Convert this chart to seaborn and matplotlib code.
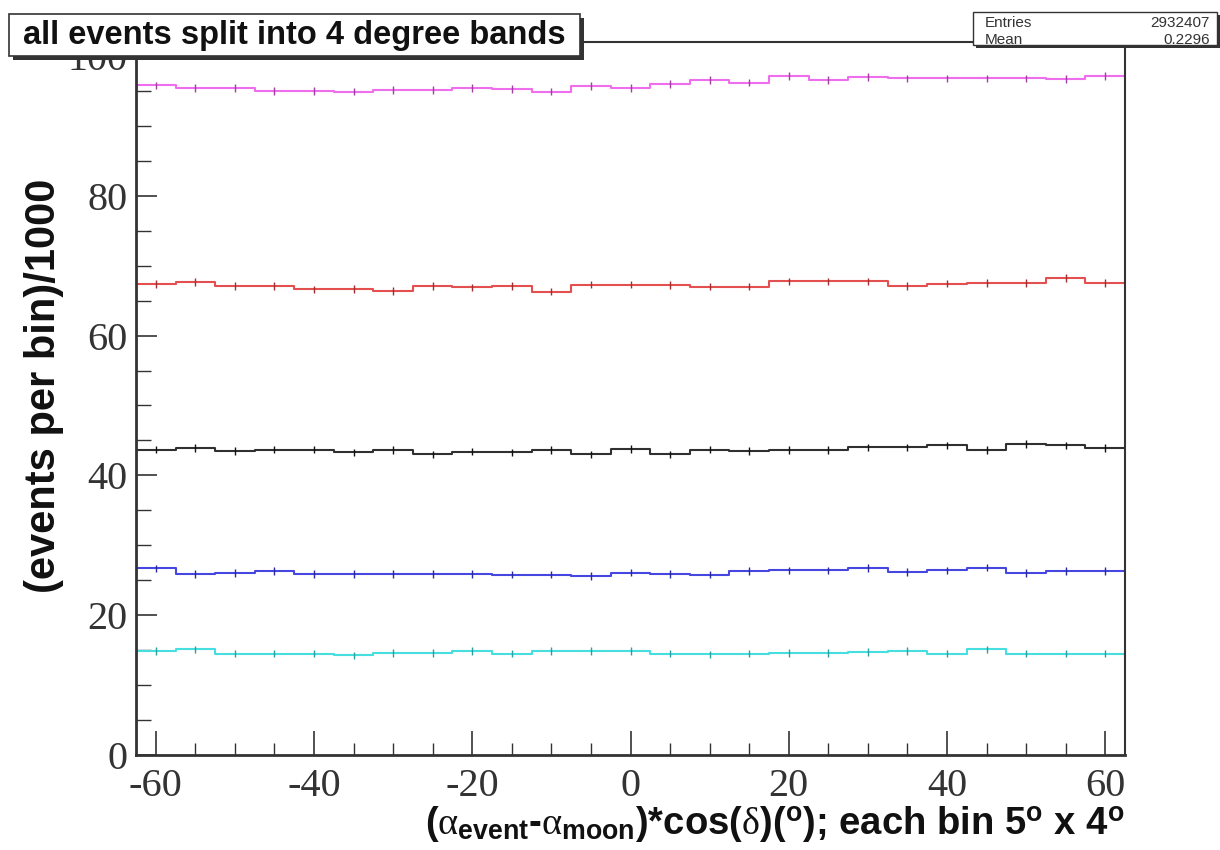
import numpy as np
import pandas as pd
import matplotlib
matplotlib.use("Agg")
import matplotlib.pyplot as plt
from matplotlib.patches import Rectangle
from matplotlib.ticker import MultipleLocator
import seaborn as sns

# ---- data (events per bin / 1000), 25 bins of 5 degrees ----
bin_centers = np.arange(-60, 60.1, 5.0)
band_names = ["band 4", "band 3", "band 2", "band 1", "band 0"]
magenta_vals = [95.8, 95.4, 95.4, 95.0, 95.0, 94.9, 95.1, 95.1, 95.4, 95.3, 94.9, 95.7, 95.4,
                96.0, 96.6, 96.2, 97.1, 96.6, 97.0, 96.8, 96.8, 96.8, 96.8, 96.7, 97.1]
red_vals = [67.35, 67.7, 67.1, 67.1, 66.6, 66.7, 66.4, 67.1, 66.9, 67.1, 66.3, 67.3, 67.3,
            67.2, 67.0, 67.0, 67.75, 67.75, 67.75, 67.1, 67.45, 67.5, 67.55, 68.25, 67.55]
black_vals = [43.7, 43.9, 43.5, 43.7, 43.7, 43.3, 43.6, 43.0, 43.4, 43.3, 43.6, 43.0, 43.8,
              43.0, 43.7, 43.5, 43.6, 43.6, 44.0, 44.0, 44.3, 43.6, 44.5, 44.3, 43.9]
blue_vals = [26.7, 25.9, 26.0, 26.3, 25.9, 25.9, 25.9, 25.9, 25.9, 25.8, 25.8, 25.6, 26.1,
             25.9, 25.8, 26.3, 26.4, 26.4, 26.75, 26.2, 26.4, 26.8, 26.0, 26.3, 26.3]
cyan_vals = [14.9, 15.1, 14.5, 14.5, 14.5, 14.25, 14.6, 14.6, 14.9, 14.5, 14.9, 14.9, 14.9,
             14.5, 14.4, 14.5, 14.6, 14.6, 14.7, 14.9, 14.5, 15.1, 14.5, 14.5, 14.5]
x_ticks = [-60, -40, -20, 0, 20, 40, 60]
y_ticks = [0, 20, 40, 60, 80, 100]
title_text = "all events split into 4 degree bands"
stats_labels = ["Entries", "Mean"]
stats_values = ["2932407", "0.2296"]

series = [magenta_vals, red_vals, black_vals, blue_vals, cyan_vals]
line_colors = ["#ee6eee", "#e45050", "#303030", "#4646e0", "#46dede"]
mark_colors = ["#a040a0", "#a03030", "#111111", "#2a2aa0", "#2aa0a0"]

df = pd.DataFrame({
    "x": np.tile(bin_centers, len(series)),
    "w": np.concatenate(series),
    "band": np.repeat(band_names, len(bin_centers)),
})

sns.set_theme(style="white")
plt.rcParams["axes.unicode_minus"] = False
plt.rcParams["mathtext.fontset"] = "custom"
plt.rcParams["mathtext.rm"] = "Liberation Sans:bold"
plt.rcParams["mathtext.bf"] = "Liberation Sans:bold"
plt.rcParams["mathtext.it"] = "Liberation Serif"

fig = plt.figure(figsize=(12.2, 8.5), dpi=100)
ax = fig.add_axes([136 / 1220, 1 - 755 / 850, (1125 - 136) / 1220, (755 - 42) / 850])

sns.histplot(data=df, x="x", weights="w", hue="band", binwidth=5, binrange=(-62.5, 62.5),
             element="step", fill=False, palette=dict(zip(band_names, line_colors)),
             linewidth=1.5, legend=False, ax=ax)
sns.scatterplot(data=df, x="x", y="w", hue="band", palette=dict(zip(band_names, mark_colors)),
                marker="|", s=30, linewidth=1.0, legend=False, ax=ax, zorder=4)

ax.set_xlim(-62.5, 62.5)
ax.set_ylim(0, 102)
ax.set_xticks(x_ticks)
ax.set_yticks(y_ticks)
ax.xaxis.set_minor_locator(MultipleLocator(5))
ax.yaxis.set_minor_locator(MultipleLocator(5))
ax.tick_params(axis="x", which="major", direction="in", length=17, width=1.2,
               color="#333333", labelsize=29, labelcolor="#333333", bottom=True, pad=9)
ax.tick_params(axis="y", which="major", direction="in", length=15, width=1.2,
               color="#333333", labelsize=29, labelcolor="#333333", left=True, pad=6)
ax.tick_params(axis="x", which="minor", direction="in", length=8.5, width=1.0, color="#333333",
               bottom=True)
ax.tick_params(axis="y", which="minor", direction="in", length=11, width=1.0, color="#333333",
               left=True)
for lab in ax.get_xticklabels() + ax.get_yticklabels():
    lab.set_family("Liberation Serif")
ax.set_xlabel("")
ax.set_ylabel("")
for s in ax.spines.values():
    s.set_color("#333333")
    s.set_linewidth(1.5)
ax.spines["left"].set_linewidth(2.0)
ax.spines["bottom"].set_linewidth(2.0)

# axis titles
fig.text(1125 / 1220, 1 - 834 / 850,
         r"($\alpha_{\mathrm{event}}$-$\alpha_{\mathrm{moon}}$)*cos($\delta$)($^{\mathrm{o}}$); each bin 5$^{\mathrm{o}}$ x 4$^{\mathrm{o}}$",
         ha="right", va="baseline", fontsize=27.5, fontweight="bold",
         family="Liberation Sans", color="#111111")
fig.text(44 / 1220, 1 - 386 / 850, "(events per bin)/1000", rotation=90,
         ha="center", va="center", fontsize=30, fontweight="bold",
         family="Liberation Sans", color="#111111")

# title pave with shadow
tx0, tx1, ty0, ty1 = 9 / 1220, 580 / 1220, 1 - 56 / 850, 1 - 14 / 850
fig.add_artist(Rectangle((tx0 + 4 / 1220, ty0 - 4 / 850), tx1 - tx0, ty1 - ty0,
                         transform=fig.transFigure, facecolor="#333333", edgecolor="none", zorder=5))
fig.add_artist(Rectangle((tx0, ty0), tx1 - tx0, ty1 - ty0, transform=fig.transFigure,
                         facecolor="white", edgecolor="#333333", linewidth=1.2, zorder=6))
fig.text((tx0 + tx1) / 2, (ty0 + ty1) / 2, title_text, ha="center", va="center",
         fontsize=23.5, fontweight="bold", family="Liberation Sans", color="#111111", zorder=7)

# stats pave
sx0, sx1, sy0, sy1 = 973 / 1220, 1217 / 1220, 1 - 45 / 850, 1 - 12 / 850
fig.add_artist(Rectangle((sx0 + 3 / 1220, sy0 - 3 / 850), sx1 - sx0, sy1 - sy0,
                         transform=fig.transFigure, facecolor="#333333", edgecolor="none", zorder=5))
fig.add_artist(Rectangle((sx0, sy0), sx1 - sx0, sy1 - sy0, transform=fig.transFigure,
                         facecolor="white", edgecolor="#333333", linewidth=1.0, zorder=6))
for i, (lab, val) in enumerate(zip(stats_labels, stats_values)):
    yy = 1 - (23 + 17 * i) / 850
    fig.text(985 / 1220, yy, lab, ha="left", va="center", fontsize=11,
             family="Liberation Sans", color="#333333", zorder=7)
    fig.text(1210 / 1220, yy, val, ha="right", va="center", fontsize=11,
             family="Liberation Sans", color="#333333", zorder=7)

fig.savefig("out.png", dpi=100)
